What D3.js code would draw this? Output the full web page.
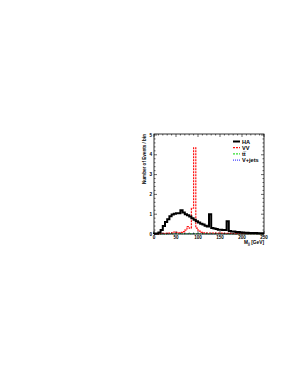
<!DOCTYPE html>
<meta charset="utf-8">
<style>
    body { margin: 0; background: #fff; }
    svg { display: block; }
    text { font-family: "Liberation Sans", Arial, sans-serif; font-weight: bold; fill: #000; }
</style>
<script src="https://d3js.org/d3.v7.min.js"></script>
<body>
<div id="chart"></div>
<script>

    // bin width in GeV, bins start at 0
    var binWidth = 5;

    // HA signal (black)
    var haValues = [0.02, 0.03, 0.08, 0.2, 0.4, 0.6, 0.75, 0.9, 0.98, 1.02,
                    1.05, 1.05, 1.2, 1.08, 1.0, 0.95, 0.88, 0.8, 0.72, 0.65,
                    0.58, 0.52, 0.48, 0.42, 0.38, 1.0, 0.3, 0.28, 0.25, 0.22,
                    0.22, 0.2, 0.2, 0.65, 0.15, 0.12, 0.12, 0.1, 0.1, 0.08,
                    0.08, 0.06, 0.06, 0.05, 0.05, 0.05, 0.05, 0.04, 0.04, 0.04];

    // VV (red dashed)
    var vvValues = [0, 0, 0.02, 0.03, 0.03, 0.03, 0.04, 0.05, 0.06, 0.1,
                    0.08, 0.06, 0.08, 0.12, 0.2, 0.38, 0.3, 1.3, 4.35, 0.3,
                    0.15, 0.08, 0.06, 0.05, 0.05, 0.05, 0.05, 0.04, 0.04, 0.04,
                    0.04, 0.03, 0.03, 0.03, 0.03, 0.03, 0.02, 0.02, 0.02, 0.02,
                    0.02, 0.02, 0.02, 0.02, 0.02, 0.02, 0.02, 0.02, 0.02, 0.02];

    // ttbar (green dashed)
    var ttValues = [0, 0, 0, 0, 0, 0, 0.01, 0.01, 0.01, 0.01,
                    0.01, 0.01, 0.01, 0.01, 0.01, 0.01, 0.01, 0.01, 0.01, 0.01,
                    0.01, 0.01, 0.01, 0.01, 0.01, 0.01, 0.01, 0.01, 0.01, 0.01,
                    0.01, 0.01, 0, 0, 0, 0, 0, 0, 0, 0,
                    0, 0, 0, 0, 0, 0, 0, 0, 0, 0];

    // V+jets (blue dotted)
    var vjetsValues = [0, 0, 0, 0, 0, 0, 0, 0.01, 0.01, 0.01,
                       0.01, 0.01, 0.01, 0.01, 0.01, 0.01, 0.01, 0.01, 0.01, 0.01,
                       0.01, 0.01, 0.01, 0.01, 0, 0, 0, 0, 0, 0,
                       0, 0, 0, 0, 0, 0, 0, 0, 0, 0,
                       0, 0, 0, 0, 0, 0, 0, 0, 0, 0];

    var xTicks = [0, 50, 100, 150, 200, 250];
    var yTicks = [0, 1, 2, 3, 4, 5];

    var legendNames = ["HA", "VV", "tt\u0305", "V+jets"];

    var W = 295, H = 382;
    var plot = {left: 154, right: 264, top: 134, bottom: 234};

    var svg = d3.select("#chart").append("svg")
        .attr("width", W)
        .attr("height", H);

    var x = d3.scaleLinear().domain([0, 250]).range([plot.left, plot.right]);
    var y = d3.scaleLinear().domain([0, 5.05]).range([plot.bottom, plot.top]);

    // step path for a histogram
    function stepPath(vals) {
        var pts = [[0, 0]];
        vals.forEach(function(v, i) {
            pts.push([i * binWidth, v]);
            pts.push([(i + 1) * binWidth, v]);
        });
        return d3.line()
            .x(function(d) { return x(d[0]); })
            .y(function(d) { return y(d[1]); })(pts);
    }

    var series = [
        {name: legendNames[3], vals: vjetsValues, color: "#4444ff", width: 1.1, dash: "1,1"},
        {name: legendNames[2], vals: ttValues, color: "#33dd33", width: 1.1, dash: "2,1"},
        {name: legendNames[1], vals: vvValues, color: "#ff1111", width: 1.2, dash: "2,1"},
        {name: legendNames[0], vals: haValues, color: "#000", width: 2, dash: null}
    ];

    svg.append("g").selectAll("path")
        .data(series)
        .enter()
        .append("path")
        .attr("d", function(d) { return stepPath(d.vals); })
        .attr("fill", "none")
        .attr("stroke", function(d) { return d.color; })
        .attr("stroke-width", function(d) { return d.width; })
        .attr("stroke-dasharray", function(d) { return d.dash; });

    // frame
    svg.append("rect")
        .attr("x", plot.left).attr("y", plot.top)
        .attr("width", plot.right - plot.left)
        .attr("height", plot.bottom - plot.top)
        .attr("fill", "none").attr("stroke", "#000").attr("stroke-width", 0.8);

    // ROOT style ticks, inside, on all four sides
    var ax = svg.append("g").attr("stroke", "#000").attr("stroke-width", 0.6);
    x.ticks(25).forEach(function(t) {
        var len = (t % 50 === 0) ? 3 : 1.5;
        ax.append("line").attr("x1", x(t)).attr("x2", x(t))
            .attr("y1", plot.bottom).attr("y2", plot.bottom - len);
        ax.append("line").attr("x1", x(t)).attr("x2", x(t))
            .attr("y1", plot.top).attr("y2", plot.top + len);
    });
    y.ticks(25).forEach(function(t) {
        var major = Math.abs(t - Math.round(t)) < 1e-6;
        var len = major ? 3 : 1.5;
        ax.append("line").attr("y1", y(t)).attr("y2", y(t))
            .attr("x1", plot.left).attr("x2", plot.left + len);
        ax.append("line").attr("y1", y(t)).attr("y2", y(t))
            .attr("x1", plot.right).attr("x2", plot.right - len);
    });

    // tick labels
    svg.append("g").selectAll("text")
        .data(xTicks)
        .enter()
        .append("text")
        .attr("x", function(d) { return x(d); })
        .attr("y", plot.bottom + 5)
        .attr("text-anchor", "middle")
        .style("font-size", "4.6px")
        .text(function(d) { return d; });

    svg.append("g").selectAll("text")
        .data(yTicks)
        .enter()
        .append("text")
        .attr("x", plot.left - 2)
        .attr("y", function(d) { return y(d) + 1.6; })
        .attr("text-anchor", "end")
        .style("font-size", "4.6px")
        .text(function(d) { return d; });

    // axis titles
    var xt = svg.append("text")
        .attr("x", plot.right)
        .attr("y", plot.bottom + 10)
        .attr("text-anchor", "end")
        .style("font-size", "4.8px");
    xt.append("tspan").text("M");
    xt.append("tspan").attr("dy", 1).style("font-size", "3.4px").text("jj");
    xt.append("tspan").attr("dy", -1).text(" [GeV]");

    svg.append("text")
        .attr("transform", "translate(146," + plot.top + ") rotate(-90)")
        .attr("text-anchor", "end")
        .style("font-size", "4.6px")
        .text("Number of Events / bin");

    // legend
    var leg = svg.append("g");
    series.slice().reverse().forEach(function(s, i) {
        var ly = 141.5 + i * 6.2;
        leg.append("line")
            .attr("x1", 233).attr("x2", 240)
            .attr("y1", ly).attr("y2", ly)
            .attr("stroke", s.color)
            .attr("stroke-width", s.width)
            .attr("stroke-dasharray", s.dash);
        leg.append("text")
            .attr("x", 242).attr("y", ly + 2)
            .style("font-size", "5.6px")
            .text(s.name);
    });

</script>
</body>
